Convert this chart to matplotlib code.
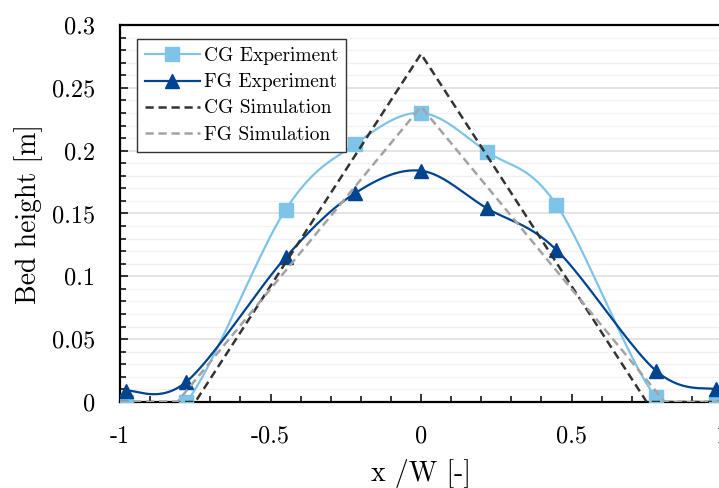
import numpy as np
import matplotlib
matplotlib.use("Agg")
import matplotlib.pyplot as plt
from matplotlib.ticker import MultipleLocator, FixedLocator, FixedFormatter
from matplotlib.lines import Line2D

plt.rcParams["font.family"] = ["cmr10", "DejaVu Serif"]
plt.rcParams["mathtext.fontset"] = "cm"
plt.rcParams["axes.unicode_minus"] = False

# Measured profiles across the bed
x_exp = [-0.98, -0.78, -0.45, -0.22, 0.0, 0.22, 0.45, 0.78, 0.98]
cg_exp = [0.0, 0.0, 0.153, 0.205, 0.230, 0.199, 0.157, 0.004, 0.0]
fg_exp = [0.009, 0.016, 0.115, 0.166, 0.184, 0.154, 0.121, 0.025, 0.010]

# Simulated heap shapes
x_cg_sim = [-1.0, -0.75, 0.0, 0.75, 1.0]
cg_sim = [0.0, 0.0, 0.277, 0.0, 0.0]
x_fg_sim = [-1.0, -0.81, 0.0, 0.81, 1.0]
fg_sim = [0.0, 0.0, 0.235, 0.0, 0.0]

x_ticks = [-1, -0.5, 0, 0.5, 1]
x_tick_labels = ["-1", "-0.5", "0", "0.5", "1"]
y_ticks = [0, 0.05, 0.1, 0.15, 0.2, 0.25, 0.3]
y_tick_labels = ["0", "0.05", "0.1", "0.15", "0.2", "0.25", "0.3"]

C_CG = "#7dc4e8"
C_FG = "#00438f"
C_CGS = "#333333"
C_FGS = "#a3a3a3"


def smooth(xs, ys, n=40):
    """Catmull-Rom curve through the points (spreadsheet-style smoothed line)."""
    p = np.column_stack([xs, ys]).astype(float)
    p = np.vstack([p[0], p, p[-1]])
    out = []
    t = np.linspace(0, 1, n)[:, None]
    for i in range(1, len(p) - 2):
        p0, p1, p2, p3 = p[i - 1], p[i], p[i + 1], p[i + 2]
        b1 = p1 + (p2 - p0) / 6.0
        b2 = p2 - (p3 - p1) / 6.0
        seg = ((1 - t) ** 3) * p1 + 3 * ((1 - t) ** 2) * t * b1 + 3 * (1 - t) * t ** 2 * b2 + t ** 3 * p2
        out.append(seg if i == 1 else seg[1:])
    c = np.vstack(out)
    return c[:, 0], c[:, 1]


fig = plt.figure(figsize=(7.19, 4.88), dpi=100)
W, H = 719, 488
ax = fig.add_axes([120 / W, 86 / H, 602 / W, 377 / H])

ax.set_xlim(-1, 1)
ax.set_ylim(0, 0.3)

# horizontal grid
ax.yaxis.set_minor_locator(MultipleLocator(0.01))
ax.xaxis.set_minor_locator(MultipleLocator(0.1))
ax.grid(True, axis="y", which="major", color="#e2e2e2", lw=1.3, zorder=0)
ax.grid(True, axis="y", which="minor", color="#f2f2f2", lw=1.0, zorder=0)
ax.set_axisbelow(True)

sx, sy = smooth(x_exp, cg_exp)
ax.plot(sx, sy, color=C_CG, lw=1.6, zorder=3)
ax.plot(x_exp, cg_exp, ls="none", marker="s", ms=10, color=C_CG, zorder=3)

sx, sy = smooth(x_exp, fg_exp)
ax.plot(sx, sy, color=C_FG, lw=1.6, zorder=4)
ax.plot(x_exp, fg_exp, ls="none", marker="^", ms=10, color=C_FG, zorder=4)

ax.plot(x_cg_sim, cg_sim, color=C_CGS, lw=1.8, ls=(0, (3.3, 1.9)), zorder=5)
ax.plot(x_fg_sim, fg_sim, color=C_FGS, lw=1.8, ls=(0, (3.3, 1.9)), zorder=6)

# legend proxies
handles = [
    Line2D([], [], color=C_CG, lw=1.6, marker="s", ms=10),
    Line2D([], [], color=C_FG, lw=1.6, marker="^", ms=10),
    Line2D([], [], color=C_CGS, lw=1.8, ls=(0, (3.3, 1.9))),
    Line2D([], [], color=C_FGS, lw=1.8, ls=(0, (3.3, 1.9))),
]
labels = ["CG Experiment", "FG Experiment", "CG Simulation", "FG Simulation"]
leg = ax.legend(handles, labels, loc="upper left",
                bbox_to_anchor=((137 - 120) / 602, 1 - (39 - 25) / 377),
                borderaxespad=0, fontsize=14, frameon=True, fancybox=False,
                framealpha=1, edgecolor="#333333", handlelength=2.8,
                handletextpad=0.2, labelspacing=0.42, borderpad=0.42)
leg.get_frame().set_linewidth(1.0)

ax.xaxis.set_major_locator(FixedLocator(x_ticks))
ax.xaxis.set_major_formatter(FixedFormatter(x_tick_labels))
ax.yaxis.set_major_locator(FixedLocator(y_ticks))
ax.yaxis.set_major_formatter(FixedFormatter(y_tick_labels))

ax.tick_params(which="both", direction="in", width=1.1, colors="black")
ax.tick_params(which="major", length=6)
ax.tick_params(which="minor", length=4)
ax.tick_params(axis="y", which="both", pad=18, labelsize=17.5)
ax.tick_params(axis="x", which="both", pad=17, labelsize=17.5)
ax.tick_params(top=False, right=False, which="both")

for side in ["left", "bottom", "top", "right"]:
    ax.spines[side].set_linewidth(1.6)
    ax.spines[side].set_color("black")

ax.set_xlabel("x /W [-]", fontsize=20, labelpad=8)
ax.set_ylabel("Bed height [m]", fontsize=20, labelpad=6)

fig.savefig("out.png", dpi=100)
